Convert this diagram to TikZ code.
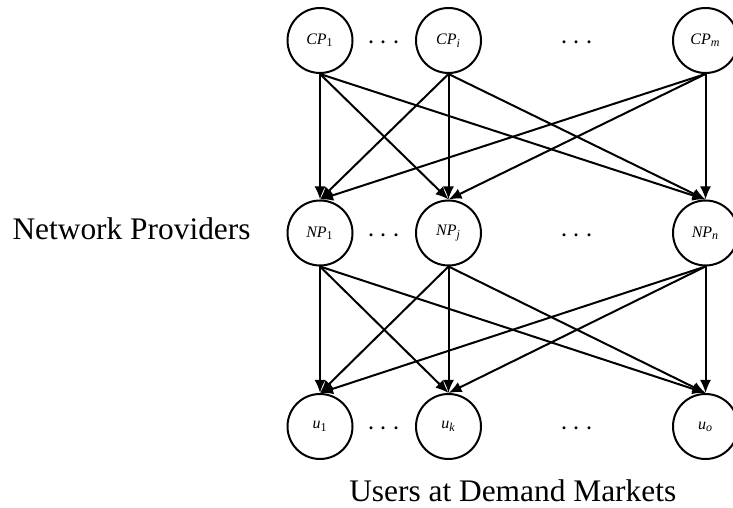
\documentclass[tikz,border=0pt]{standalone}
\usepackage{fontspec}
\setmainfont{Liberation Serif}
\usetikzlibrary{arrows.meta}

\tikzset{
  agent/.style={circle, draw, line width=1pt, minimum size=32.5pt, inner sep=0pt, font=\fontsize{8}{9}\selectfont},
  link/.style={line width=1pt, -{Latex[length=6.5pt,width=5.5pt]}},
  gap/.style={font=\fontsize{14}{16}\selectfont, yshift=-1.5pt},
  caption/.style={font=\fontsize{15.7}{18}\selectfont, inner sep=0pt}
}
\newcommand{\lbl}[2]{\textit{#1}\textsubscript{#2}}

\begin{document}
\begin{tikzpicture}[x=0.5pt, y=0.5pt]
\useasboundingbox (0,0) rectangle (733,508);

% content providers
\node[agent] (cp1) at (320,467.5) {\lbl{CP}{1}};
\node[agent] (cpi) at (448.5,467.5) {\lbl{CP}{\textit{i}}};
\node[agent] (cpm) at (705.5,467.5) {\lbl{CP}{\textit{m}}};
\node[gap] (cpd1) at (384,467.5) {$\cdots$};
\node[gap] (cpd2) at (577,467.5) {$\cdots$};

% network providers
\node[agent] (np1) at (320,275) {\lbl{NP}{1}};
\node[agent] (npj) at (448.5,275) {\lbl{NP}{\textit{j}}};
\node[agent] (npn) at (705.5,275) {\lbl{NP}{\textit{n}}};
\node[gap] (npd1) at (384,275) {$\cdots$};
\node[gap] (npd2) at (577,275) {$\cdots$};

% users
\node[agent] (u1) at (320,81.5) {\lbl{u}{1}};
\node[agent] (uk) at (448.5,81.5) {\lbl{u}{\textit{k}}};
\node[agent] (uo) at (705.5,81.5) {\lbl{u}{\textit{o}}};
\node[gap] (ud1) at (384,81.5) {$\cdots$};
\node[gap] (ud2) at (577,81.5) {$\cdots$};

\node[caption, anchor=base east] (nplabel) at (251,268) {Network Providers};
\node[caption, anchor=base] (ulabel) at (512.75,6) {Users at Demand Markets};

\foreach \s in {cp1,cpi,cpm}
  \foreach \t in {np1,npj,npn}
    \draw[link] (\s.south) -- (\t.north);
\foreach \s in {np1,npj,npn}
  \foreach \t in {u1,uk,uo}
    \draw[link] (\s.south) -- (\t.north);

\end{tikzpicture}
\end{document}
